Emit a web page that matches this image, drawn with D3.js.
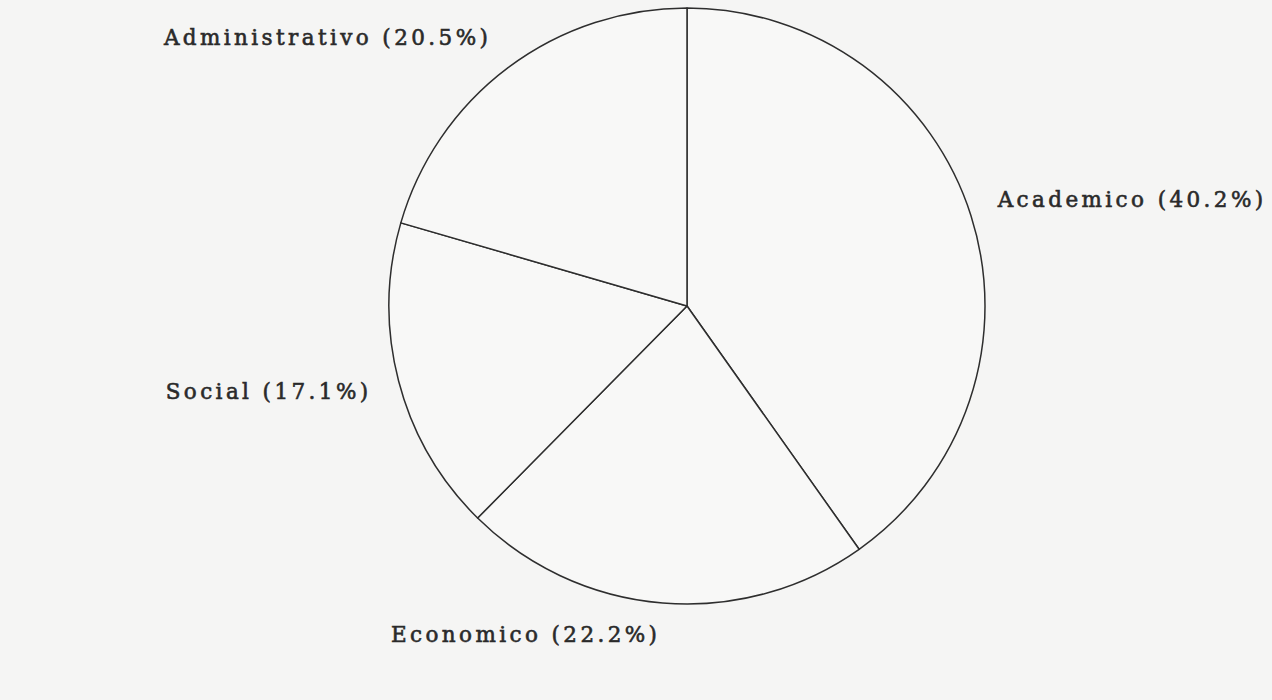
<!DOCTYPE html>
<html>
<head>
<meta charset="utf-8">
<script src="https://cdn.jsdelivr.net/npm/d3@7"></script>
<style>
  html, body { margin: 0; padding: 0; background: #f5f5f4; }
  svg { display: block; }
</style>
</head>
<body>
<svg id="chart" width="1272" height="700"></svg>
<script>
const categories = ["Academico", "Economico", "Social", "Administrativo"];
const percents = [40.2, 22.2, 17.1, 20.5];

const W = 1272, H = 700;
const cx = 687, cy = 306, R = 298, labelR = 326;

const svg = d3.select("#chart");
svg.append("rect").attr("width", W).attr("height", H).attr("fill", "#f5f5f4");

const data = categories.map((c, i) => ({ name: c, value: percents[i] }));
const pie = d3.pie().value(d => d.value).sort(null);
const arcs = pie(data);
const arc = d3.arc().innerRadius(0).outerRadius(R);
const labelArc = d3.arc().innerRadius(labelR).outerRadius(labelR);

const g = svg.append("g").attr("transform", `translate(${cx},${cy})`);

g.selectAll("path.slice")
  .data(arcs)
  .join("path")
  .attr("class", "slice")
  .attr("d", arc)
  .attr("fill", "#f8f8f7")
  .attr("stroke", "#2e2e2e")
  .attr("stroke-width", 1.5)
  .attr("stroke-linejoin", "round");

const mid = d => (d.startAngle + d.endAngle) / 2;

g.selectAll("text.label")
  .data(arcs)
  .join("text")
  .attr("class", "label")
  .attr("transform", d => {
    const [x, y] = labelArc.centroid(d);
    return `translate(${x},${y})`;
  })
  .attr("dy", d => (Math.cos(mid(d)) < 0 ? "0.5em" : "0"))
  .attr("text-anchor", d => (mid(d) < Math.PI ? "start" : "end"))
  .attr("font-family", "'DejaVu Serif', 'Liberation Serif', serif")
  .attr("font-size", 21.5)
  .attr("letter-spacing", 3.4)
  .attr("fill", "#2a2a2a")
  .attr("stroke", "#2a2a2a")
  .attr("stroke-width", 0.6)
  .text(d => `${d.data.name} (${d3.format(".1f")(d.data.value)}%)`);
</script>
</body>
</html>
